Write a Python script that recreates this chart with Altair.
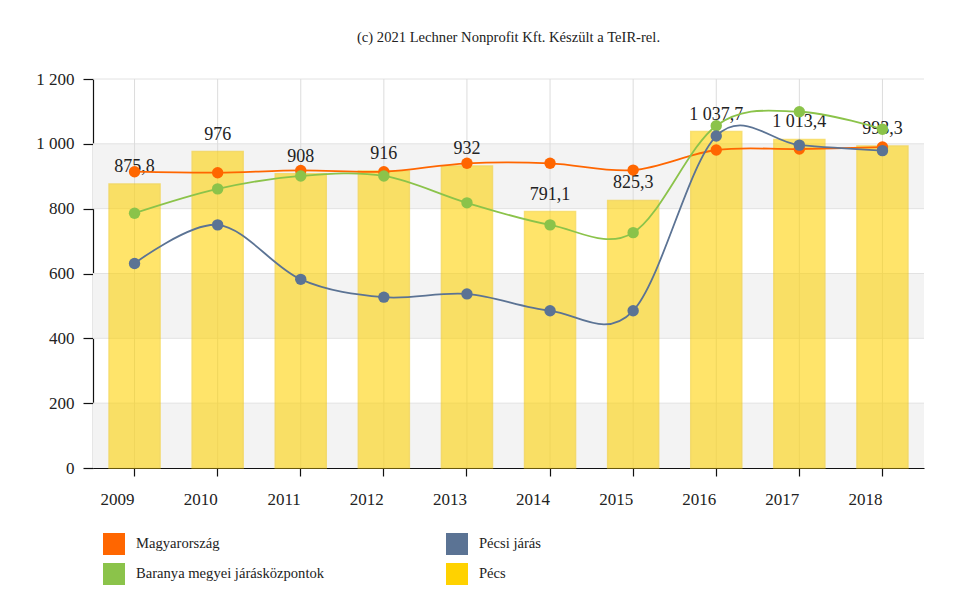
import altair as alt
import pandas as pd

years = ["2009", "2010", "2011", "2012", "2013", "2014", "2015", "2016", "2017", "2018"]
pecs = [875.8, 976, 908, 916, 932, 791.1, 825.3, 1037.7, 1013.4, 993.3]
magyarorszag = [914, 911, 918, 914, 940, 940, 919, 981, 984, 990]
baranya = [786, 861, 901, 901, 818, 750, 726, 1056, 1099, 1045]
pecsi_jaras = [631, 750, 582, 527, 537, 485, 485, 1024, 996, 979]

# legend is filled column by column
series_names = ["Magyarország", "Baranya megyei járásközpontok", "Pécsi járás", "Pécs"]
series_colors = ["#FF6600", "#8BC34A", "#5B7394", "#FFD200"]

band_lo = [0, 400, 800]
band_hi = [200, 600, 1000]
y_ticks = [0, 200, 400, 600, 800, 1000, 1200]

FONT = "Liberation Serif"

bars_df = pd.DataFrame({"year": years, "value": pecs})
bands_df = pd.DataFrame({"lo": band_lo, "hi": band_hi})
grid_df = pd.DataFrame({"v": y_ticks[1:]})

line_order = [("Magyarország", magyarorszag), ("Baranya megyei járásközpontok", baranya), ("Pécsi járás", pecsi_jaras)]

x_scale = alt.Scale(domain=years, paddingInner=0.386)
y_scale = alt.Scale(domain=[0, 1200], nice=False)
color_scale = alt.Scale(domain=series_names, range=series_colors)

x_enc = alt.X("year:N", scale=x_scale, sort=years,
              axis=alt.Axis(title=None, labelAngle=0, tickSize=8, labelPadding=23, grid=False))
y_enc = alt.Y("value:Q", scale=y_scale,
              axis=alt.Axis(title=None, values=y_ticks, tickSize=10, labelPadding=9, grid=False,
                            labelExpr="replace(format(datum.value, ','), ',', ' ')"))

bands = alt.Chart(bands_df).mark_rect(color="#f3f3f3").encode(
    y=alt.Y("lo:Q", scale=y_scale),
    y2="hi:Q",
    x=alt.value(0),
    x2=alt.value("width"),
)

hgrid = alt.Chart(grid_df).mark_rule(color="#e2e2e2", strokeWidth=1).encode(
    y=alt.Y("v:Q", scale=y_scale),
)

vgrid = alt.Chart(bars_df).mark_rule(color="#dcdcdc", strokeWidth=1).encode(
    x=alt.X("year:N", scale=x_scale, sort=years),
)

bars = alt.Chart(bars_df).mark_bar(color="#FFD200", opacity=0.58, stroke="#F2C500",
                                   strokeWidth=1.5, strokeOpacity=0.9).encode(
    x=x_enc,
    y=y_enc,
)

labels = alt.Chart(bars_df).transform_calculate(
    lbl="replace(replace(format(datum.value, ',.1~f'), ',', ' '), '.', ',')"
).mark_text(font=FONT, fontSize=18, color="#222", baseline="alphabetic", dy=-12).encode(
    x=alt.X("year:N", scale=x_scale, sort=years),
    y=alt.Y("value:Q", scale=y_scale),
    text="lbl:N",
)

layers = [bands, hgrid, vgrid, bars, labels]

legend = alt.Legend(title=None, orient="none", legendX=10, legendY=454, columns=2,
                    labelFont=FONT, labelFontSize=14.6)

for name, vals in line_order:
    df = pd.DataFrame({"year": years, "value": vals, "series": [name] * len(years)})
    base = alt.Chart(df)
    line = base.mark_line(interpolate="cardinal", strokeWidth=1.8).encode(
        x=alt.X("year:N", scale=x_scale, sort=years),
        y=alt.Y("value:Q", scale=y_scale),
        color=alt.Color("series:N", scale=color_scale, legend=legend),
    )
    pts = base.mark_circle(size=130, opacity=1).encode(
        x=alt.X("year:N", scale=x_scale, sort=years),
        y=alt.Y("value:Q", scale=y_scale),
        color=alt.Color("series:N", scale=color_scale, legend=legend),
    )
    layers += [line, pts]

chart = alt.layer(*layers).properties(
    width=831,
    height=389,
    padding={"left": 85, "top": 71, "right": 30, "bottom": 122},
    autosize=alt.AutoSizeParams(type="none"),
    title=alt.TitleParams("(c) 2021 Lechner Nonprofit Kft. Készült a TeIR-rel.",
                          font=FONT, fontSize=14.6, fontWeight="normal", color="#222",
                          anchor="middle", offset=25),
    background="white",
).configure(font=FONT).configure_view(stroke=None).configure_axis(
    labelFont=FONT, labelFontSize=17, labelColor="#222",
    domainColor="#111", tickColor="#111", domainWidth=1.2, tickWidth=1.2,
).configure_legend(
    labelFont=FONT, labelFontSize=14.6, labelColor="#222", labelLimit=400,
    symbolType="square", symbolSize=484, symbolStrokeWidth=0, symbolOpacity=1,
    labelOffset=11, rowPadding=8, columnPadding=121, padding=0,
).configure_title(font=FONT)

chart.save("out.html", embed_options={"renderer": "svg", "actions": False})
